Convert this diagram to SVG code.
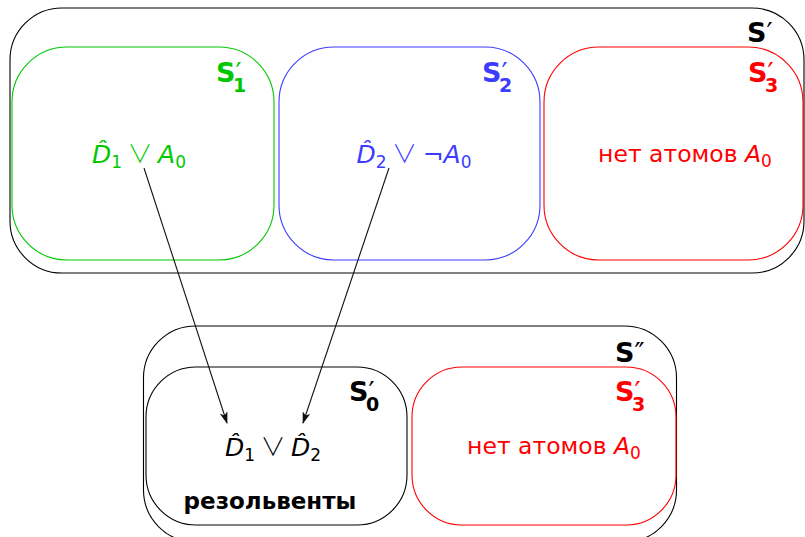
<svg xmlns="http://www.w3.org/2000/svg" width="805" height="537" viewBox="0 0 805 537">
<style>
.box{fill:none;stroke-width:1.1}
.k{stroke:#000}
.g{stroke:#00c800}
.b{stroke:#3c3cff}
.r{stroke:#ff0000}
text{font-family:"DejaVu Sans","Liberation Sans",sans-serif}
.lab{font-weight:bold;font-size:27px}
.pr{font-weight:normal}
.sub{font-size:17px}
.lsub{font-size:19px;font-weight:bold}
.m{font-size:25px;text-anchor:middle}
.t{font-size:23.5px;text-anchor:middle}
.it{font-style:italic}
.op{font-family:"Noto Sans CJK SC","DejaVu Sans",sans-serif;font-weight:300;font-size:25px}
.conn{stroke:#111;stroke-width:1.1;fill:none;marker-end:url(#ah)}
</style>
<defs>
<marker id="ah" viewBox="0 0 12 8" refX="11" refY="4" markerWidth="12" markerHeight="8" markerUnits="userSpaceOnUse" orient="auto">
<path d="M0,0 L12,4 L0,8 L3,4 Z" fill="#111"/>
</marker>
</defs>
<rect width="805" height="537" fill="#fff"/>
<g id="S_prime">
<rect class="box k" x="10" y="8" width="794" height="265" rx="52" ry="52"/>
<text class="lab" x="747" y="42" fill="#000">S<tspan class="pr">′</tspan></text>
</g>
<g id="S1">
<rect class="box g" x="12" y="47" width="262" height="213" rx="55" ry="55"/>
<text class="lab" x="216" y="82" fill="#00c800">S<tspan class="pr">′</tspan><tspan class="lsub" x="233" y="92">1</tspan></text>
<text class="m" x="139" y="163" fill="#00c800"><tspan class="it">D̂</tspan><tspan class="sub" dy="5">1</tspan><tspan class="op" dy="-5"> ∨ </tspan><tspan class="it">A</tspan><tspan class="sub" dy="5">0</tspan></text>
</g>
<g id="S2">
<rect class="box b" x="279" y="47" width="261" height="213" rx="55" ry="55"/>
<text class="lab" x="482" y="82" fill="#3c3cff">S<tspan class="pr">′</tspan><tspan class="lsub" x="499" y="92">2</tspan></text>
<text class="m" x="414" y="163" fill="#3c3cff"><tspan class="it">D̂</tspan><tspan class="sub" dy="5">2</tspan><tspan class="op" dy="-5"> ∨ </tspan><tspan>¬</tspan><tspan class="it">A</tspan><tspan class="sub" dy="5">0</tspan></text>
</g>
<g id="S3">
<rect class="box r" x="544" y="47" width="259" height="213" rx="55" ry="55"/>
<text class="lab" x="748" y="82" fill="#ff0000">S<tspan class="pr">′</tspan><tspan class="lsub" x="765" y="92">3</tspan></text>
<text class="t" x="685" y="162" fill="#ff0000">нет атомов <tspan class="it">A</tspan><tspan class="sub" dy="5">0</tspan></text>
</g>
<g id="S_dprime">
<rect class="box k" x="143.5" y="326" width="533" height="216" rx="52" ry="52"/>
<text class="lab" x="615" y="362" fill="#000">S<tspan class="pr">″</tspan></text>
</g>
<g id="S0">
<rect class="box k" x="146" y="367" width="261" height="158" rx="50" ry="50"/>
<text class="lab" x="349" y="401" fill="#000">S<tspan class="pr">′</tspan><tspan class="lsub" x="366" y="411">0</tspan></text>
<text class="m" x="273" y="456" fill="#000"><tspan class="it">D̂</tspan><tspan class="sub" dy="5">1</tspan><tspan class="op" dy="-5"> ∨ </tspan><tspan class="it">D̂</tspan><tspan class="sub" dy="5">2</tspan></text>
<text x="270" y="509" font-size="23" font-weight="bold" text-anchor="middle" fill="#000">резольвенты</text>
</g>
<g id="S3_bottom">
<rect class="box r" x="412" y="367" width="264" height="158" rx="50" ry="50"/>
<text class="lab" x="615" y="401" fill="#ff0000">S<tspan class="pr">′</tspan><tspan class="lsub" x="632" y="411">3</tspan></text>
<text class="t" x="554" y="454" fill="#ff0000">нет атомов <tspan class="it">A</tspan><tspan class="sub" dy="5">0</tspan></text>
</g>
<g id="connectors">
<line class="conn" x1="144" y1="168" x2="227" y2="423"/>
<line class="conn" x1="389" y1="168" x2="303" y2="423"/>
</g>
</svg>
